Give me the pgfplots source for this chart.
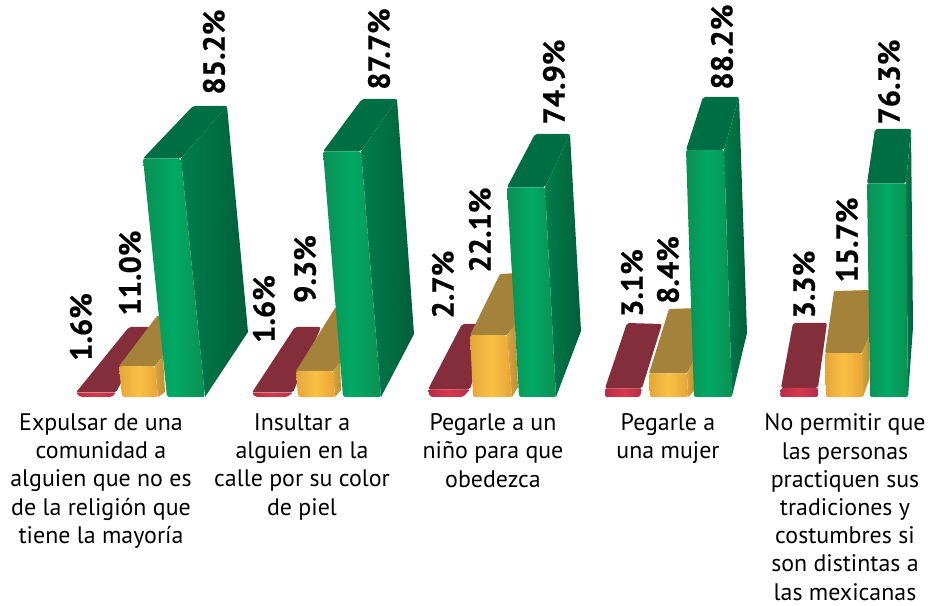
\documentclass[border=0pt]{standalone}
\usepackage{pgfplots}
\pgfplotsset{compat=1.18}
\usepackage{fontspec}
\setmainfont{PT Sans}
\newfontfamily\labfont[FakeBold=0.5]{PT Sans Bold}
\definecolor{gE}{HTML}{0B8F55}\definecolor{gM}{HTML}{00AA64}\definecolor{gT}{HTML}{006E45}
\definecolor{gSa}{HTML}{017D4B}\definecolor{gSb}{HTML}{005F3B}
\definecolor{yE}{HTML}{E5A538}\definecolor{yM}{HTML}{FBC045}\definecolor{yT}{HTML}{A58239}
\definecolor{ySa}{HTML}{D8A53C}\definecolor{ySb}{HTML}{B98E35}
\definecolor{rE}{HTML}{B92C45}\definecolor{rM}{HTML}{D6384F}\definecolor{rT}{HTML}{842E3B}
% x positions are picture columns; front faces take y from the value (percent)
\newcommand{\front}[6]{\addplot[draw=none,forget plot,rounded corners=2pt,left color=#1E,right color=#1E,middle color=#1M] coordinates {(#2,0)(#3,0)(#4,#6)(#5,#6)} --cycle;}
\begin{document}
\begin{tikzpicture}[x=1pt,y=1pt]
\path[use as bounding box] (0,0) rectangle (928,605);
\begin{axis}[
  at={(0,0)},anchor=south west,scale only axis,width=928pt,height=605pt,
  xmin=0,xmax=928,ymin=-74.2857,ymax=141.7857,clip=false,
  axis lines=middle,axis line style={draw=none},tick style={draw=none},
  ytick=\empty,
  xtick={101,302,493,668,845},
  xticklabels={{Expulsar de una\\comunidad a\\alguien que no es\\de la religión que\\tiene la mayoría},
    {Insultar a\\alguien en la\\calle por su color\\de piel},
    {Pegarle a un\\niño para que\\obedezca},
    {Pegarle a\\una mujer},
    {No permitir que\\las personas\\practiquen sus\\tradiciones y\\costumbres si\\son distintas a\\las mexicanas}},
  xticklabel style={anchor=north,align=center,yshift=-14.5pt,inner sep=0pt,font=\fontsize{23.9}{28.2}\selectfont},
  px/.style={y filter/.expression={(397-y)/2.8}}
]
% ---------- group 1 : 1.6 11.0 85.2
\addplot[draw=none,fill=rT,rounded corners=2pt,px,forget plot] coordinates {(76,392.5)(116,392.5)(150,327)(129,327)} --cycle;
\front{r}{80}{112}{116}{76}{1.6}
\addplot[draw=none,fill=yT,px,forget plot] coordinates {(119,366.2)(155,366.2)(163,356)(172,316)(157,316)} --cycle;
\addplot[draw=none,left color=ySa,right color=ySb,px,forget plot] coordinates {(155,366.2)(163,356)(165,392)(158,397)} --cycle;
\front{y}{122}{158}{155}{119}{11.0}
\addplot[draw=none,fill=gT,rounded corners=2pt,px,forget plot] coordinates {(143,158.4)(181,158.4)(227,106)(193,106)} --cycle;
\addplot[draw=none,left color=gSa,right color=gSb,px,forget plot] coordinates {(181,158.4)(227,106)(248,332)(205,397)} --cycle;
\front{g}{167}{205}{181}{143}{85.2}
% ---------- group 2 : 1.6 9.3 87.7
\addplot[draw=none,fill=rT,rounded corners=2pt,px,forget plot] coordinates {(252,392.5)(293,392.5)(321,327)(295,327)} --cycle;
\front{r}{255}{287}{293}{252}{1.6}
\addplot[draw=none,fill=yT,px,forget plot] coordinates {(296,371)(333,371)(340,363)(352,308)(335,308)} --cycle;
\addplot[draw=none,left color=ySa,right color=ySb,px,forget plot] coordinates {(333,371)(340,363)(341,390)(335,397)} --cycle;
\front{y}{298}{335}{333}{296}{9.3}
\addplot[draw=none,fill=gT,rounded corners=2pt,px,forget plot] coordinates {(323,151.4)(361,151.4)(397,99)(362,99)} --cycle;
\addplot[draw=none,left color=gSa,right color=gSb,px,forget plot] coordinates {(361,151.4)(397,99)(414,334)(381,397)} --cycle;
\front{g}{343}{381}{361}{323}{87.7}
% ---------- group 3 : 2.7 22.1 74.9
\addplot[draw=none,fill=rT,rounded corners=2pt,px,forget plot] coordinates {(428,389.4)(470,389.4)(490,324)(462,324)} --cycle;
\front{r}{430}{463}{470}{428}{2.7}
\addplot[draw=none,fill=yT,rounded corners=1pt,px,forget plot] coordinates {(470,335.1)(507,335.1)(515,325)(520,273)(500,274)} --cycle;
\addplot[draw=none,left color=ySa,right color=ySb,px,forget plot] coordinates {(507,335.1)(515,325)(518,387)(512,397)} --cycle;
\front{y}{473}{512}{507}{470}{22.1}
\addplot[draw=none,fill=gT,rounded corners=2pt,px,forget plot] coordinates {(507,187.3)(545,187.3)(570,134)(535,134)} --cycle;
\addplot[draw=none,left color=gSa,right color=gSb,px,forget plot] coordinates {(545,187.3)(570,134)(581,331)(556,397)} --cycle;
\front{g}{519}{556}{545}{507}{74.9}
% ---------- group 4 : 3.1 8.4 88.2
\addplot[draw=none,fill=rT,rounded corners=2pt,px,forget plot] coordinates {(605,388.3)(642,388.3)(662,324)(627,323)} --cycle;
\front{r}{605}{640}{642}{605}{3.1}
\addplot[draw=none,fill=yT,rounded corners=1pt,px,forget plot] coordinates {(649,373.5)(687,373.5)(694,360)(698,308)(669,309)} --cycle;
\addplot[draw=none,left color=ySa,right color=ySb,px,forget plot] coordinates {(687,373.5)(694,360)(695,390)(688,397)} --cycle;
\front{y}{650}{688}{687}{649}{8.4}
\addplot[draw=none,fill=gT,rounded corners=2pt,px,forget plot] coordinates {(686,150)(724,150)(739,97)(703,97)} --cycle;
\addplot[draw=none,left color=gSa,right color=gSb,px,forget plot] coordinates {(724,150)(739,97)(747,333)(732,396)} --cycle;
\front{g}{694}{732}{724}{686}{88.2}
% ---------- group 5 : 3.3 15.7 76.3
\addplot[draw=none,fill=rT,rounded corners=2pt,px,forget plot] coordinates {(781,387.8)(818,387.8)(827,323)(793,323)} --cycle;
\front{r}{780}{818}{818}{781}{3.3}
\addplot[draw=none,fill=yT,rounded corners=1pt,px,forget plot] coordinates {(825,353)(862,353)(869,337)(872,290)(834,291)} --cycle;
\addplot[draw=none,left color=ySa,right color=ySb,px,forget plot] coordinates {(862,353)(869,337)(869,380)(863,397)} --cycle;
\front{y}{826}{863}{862}{825}{15.7}
\addplot[draw=none,fill=gT,rounded corners=2pt,px,forget plot] coordinates {(867,183.4)(906,183.4)(911,129)(875,129)} --cycle;
\addplot[draw=none,left color=gSa,right color=gSb,px,forget plot] coordinates {(906,183.4)(911,129)(913,327)(908,397)} --cycle;
\front{g}{870}{908}{906}{867}{76.3}
% ---------- value labels
\tikzset{vl/.style={rotate=90,anchor=center,inner sep=0pt,font=\labfont\fontsize{30.5}{32}\selectfont}}
\node[vl] at (axis cs:81,{(397-327)/2.8}) {1.6\%};
\node[vl] at (axis cs:130,{(397-273)/2.8}) {11.0\%};
\node[vl] at (axis cs:214,{(397-52)/2.8}) {85.2\%};
\node[vl] at (axis cs:264,{(397-309)/2.8}) {1.6\%};
\node[vl] at (axis cs:305,{(397-269)/2.8}) {9.3\%};
\node[vl] at (axis cs:379,{(397-49)/2.8}) {87.7\%};
\node[vl] at (axis cs:443,{(397-284.5)/2.8}) {2.7\%};
\node[vl] at (axis cs:480,{(397-230)/2.8}) {22.1\%};
\node[vl] at (axis cs:554,{(397-82)/2.8}) {74.9\%};
\node[vl] at (axis cs:632,{(397-283)/2.8}) {3.1\%};
\node[vl] at (axis cs:668,{(397-270)/2.8}) {8.4\%};
\node[vl] at (axis cs:722,{(397-47)/2.8}) {88.2\%};
\node[vl] at (axis cs:804,{(397-284.5)/2.8}) {3.3\%};
\node[vl] at (axis cs:847,{(397-240)/2.8}) {15.7\%};
\node[vl] at (axis cs:889,{(397-82)/2.8}) {76.3\%};
\end{axis}
\end{tikzpicture}
\end{document}
